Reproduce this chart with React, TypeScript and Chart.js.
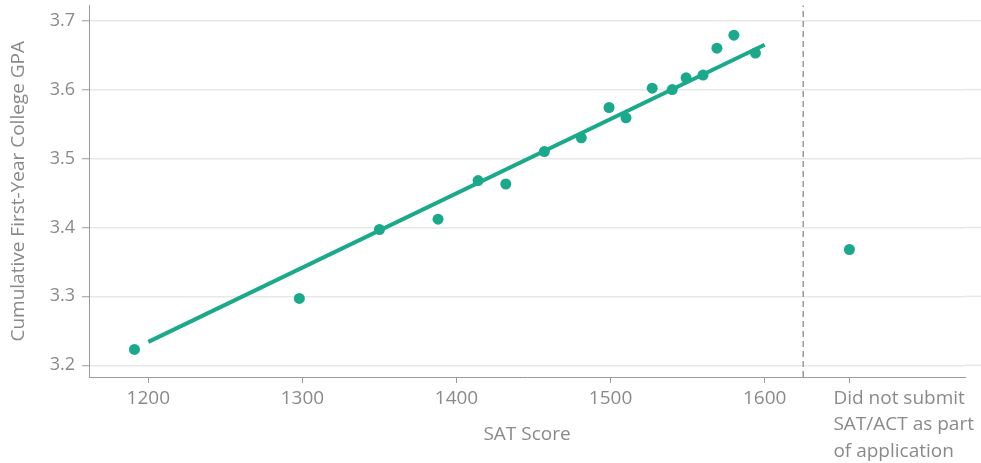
import React, { useEffect, useRef } from "react";
import { Chart, registerables } from "chart.js";

Chart.register(...registerables);

// ---- Data ----
const SAT_SCORES = [1191, 1298, 1350, 1388, 1414, 1432, 1457, 1481, 1499, 1510, 1527, 1540, 1549, 1560, 1569, 1580, 1594];
const GPA_VALUES = [3.223, 3.297, 3.397, 3.412, 3.468, 3.463, 3.510, 3.530, 3.574, 3.559, 3.602, 3.600, 3.617, 3.621, 3.660, 3.679, 3.653];
const TREND_X = [1200, 1600];
const TREND_Y = [3.234, 3.665];
const NOT_SUBMITTED_X = 1655;
const NOT_SUBMITTED_GPA = 3.368;
const NOT_SUBMITTED_LABEL = ["Did not submit", "SAT/ACT as part", "of application"];
const DIVIDER_X = 1625;
const X_TICKS = [1200, 1300, 1400, 1500, 1600];
const Y_TICKS = [3.2, 3.3, 3.4, 3.5, 3.6, 3.7];
const X_MIN = 1161.5;
const X_MAX = 1730;
const Y_MIN = 3.183;
const Y_MAX = 3.722;
const X_TITLE = "SAT Score";
const Y_TITLE = "Cumulative First-Year College GPA";

const TEAL = "#1aa98a";
const TEXT = "#8a8a8a";
const AXIS = "#9a9a9a";
const GRID = "#e8e8e8";
const FONT = "'Open Sans', sans-serif";
const FONT_SIZE = 19;
const TICK_LINE_HEIGHT = 26.7;

// Draws the multi-line category label left-aligned under its tick,
// and lets the horizontal grid lines run to the right edge.
const extrasPlugin = {
  id: "extras",
  beforeDatasetsDraw(chart: any) {
    const { ctx, chartArea, scales } = chart;
    const y = scales.y;
    ctx.save();
    ctx.strokeStyle = GRID;
    ctx.lineWidth = 1.5;
    y.ticks.forEach((t: any) => {
      const py = y.getPixelForValue(t.value);
      ctx.beginPath();
      ctx.moveTo(chartArea.right, py);
      ctx.lineTo(chart.width, py);
      ctx.stroke();
    });
    ctx.restore();
  },
  afterDraw(chart: any) {
    const { ctx, scales } = chart;
    const x = scales.x;
    const px = x.getPixelForValue(NOT_SUBMITTED_X);
    ctx.save();
    ctx.fillStyle = TEXT;
    ctx.font = `${FONT_SIZE}px ${FONT}`;
    ctx.textAlign = "left";
    ctx.textBaseline = "middle";
    NOT_SUBMITTED_LABEL.forEach((line, i) => {
      ctx.fillText(line, px - 16, x.top + 8 + TICK_LINE_HEIGHT / 2 + i * TICK_LINE_HEIGHT);
    });
    ctx.restore();
  },
};

export default function App() {
  const ref = useRef<HTMLCanvasElement | null>(null);

  useEffect(() => {
    document.body.style.margin = "0";
    const canvas = ref.current;
    if (!canvas) return;

    const points = SAT_SCORES.map((x, i) => ({ x, y: GPA_VALUES[i] }));
    points.push({ x: NOT_SUBMITTED_X, y: NOT_SUBMITTED_GPA });

    const chart = new Chart(canvas, {
      type: "scatter",
      plugins: [extrasPlugin],
      data: {
        datasets: [
          {
            label: "divider",
            data: [
              { x: DIVIDER_X, y: Y_MIN },
              { x: DIVIDER_X, y: Y_MAX },
            ],
            showLine: true,
            borderColor: AXIS,
            borderWidth: 1.5,
            borderDash: [6, 4],
            pointRadius: 0,
            clip: false,
          } as any,
          {
            label: "trend",
            data: TREND_X.map((x, i) => ({ x, y: TREND_Y[i] })),
            showLine: true,
            borderColor: TEAL,
            borderWidth: 4,
            borderCapStyle: "butt",
            pointRadius: 0,
          } as any,
          {
            label: "points",
            data: points,
            backgroundColor: TEAL,
            borderWidth: 0,
            pointRadius: 5.5,
          } as any,
        ],
      },
      options: {
        responsive: false,
        animation: false,
        layout: { padding: { top: 2, right: 16, left: 0, bottom: 0 } },
        plugins: {
          legend: { display: false },
          tooltip: { enabled: false },
        },
        scales: {
          x: {
            type: "linear",
            min: X_MIN,
            max: X_MAX,
            afterBuildTicks: (scale: any) => {
              scale.ticks = [...X_TICKS, NOT_SUBMITTED_X].map((v) => ({ value: v }));
            },
            afterFit: (scale: any) => {
              scale.height = 86;
              scale.paddingLeft = 0;
              scale.paddingRight = 0;
            },
            grid: {
              drawOnChartArea: false,
              tickLength: 6,
              tickColor: AXIS,
              tickWidth: 1,
            },
            border: { color: AXIS, width: 1 },
            ticks: {
              color: TEXT,
              padding: 2,
              maxRotation: 0,
              autoSkip: false,
              font: { family: FONT, size: FONT_SIZE, lineHeight: `${TICK_LINE_HEIGHT}px` },
              callback: (v: any) => (v === NOT_SUBMITTED_X ? "" : String(v)),
            },
            title: {
              display: true,
              text: X_TITLE,
              color: TEXT,
              font: { family: FONT, size: FONT_SIZE, lineHeight: 1.2 },
              padding: { top: 0, bottom: 17 },
            },
          },
          y: {
            type: "linear",
            min: Y_MIN,
            max: Y_MAX,
            afterBuildTicks: (scale: any) => {
              scale.ticks = Y_TICKS.map((v) => ({ value: v }));
            },
            afterFit: (scale: any) => {
              scale.width = 89;
              scale.paddingTop = 0;
              scale.paddingBottom = 0;
            },
            grid: {
              color: GRID,
              lineWidth: 1.5,
              tickLength: 7,
              tickColor: AXIS,
              tickWidth: 1,
            },
            border: { color: AXIS, width: 1 },
            ticks: {
              color: TEXT,
              padding: 7,
              font: { family: FONT, size: 18 },
              callback: (v: any) => Number(v).toFixed(1),
            },
            title: {
              display: true,
              text: Y_TITLE,
              color: TEXT,
              font: { family: FONT, size: FONT_SIZE, lineHeight: 1.2 },
              padding: { top: 7, bottom: 0 },
            },
          },
        },
      },
    });

    return () => chart.destroy();
  }, []);

  return (
    <div style={{ position: "absolute", left: 0, top: 0, width: 981, height: 463 }}>
      <canvas ref={ref} width={981} height={463} style={{ width: 981, height: 463 }} />
    </div>
  );
}
